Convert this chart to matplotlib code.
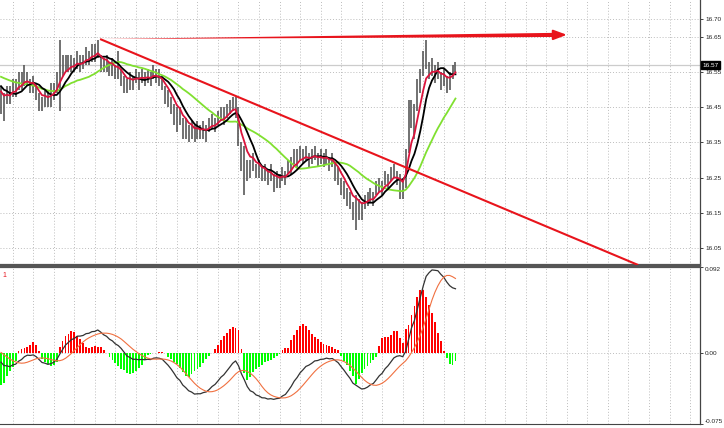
import numpy as np
import pandas as pd
import matplotlib
matplotlib.use("Agg")
import matplotlib.pyplot as plt
import matplotlib.transforms as mtransforms

# bars before the visible window (only used to warm up the averages)
history = [16.50, 16.51, 16.50, 16.52, 16.51, 16.53, 16.52, 16.54, 16.53, 16.55,
           16.54, 16.56, 16.55, 16.57, 16.56, 16.55, 16.57, 16.56, 16.55, 16.56,
           16.54, 16.55, 16.53, 16.54, 16.52, 16.53, 16.51, 16.52, 16.50, 16.49]

closes = [16.47, 16.46, 16.49, 16.48, 16.51, 16.50, 16.53, 16.52, 16.54, 16.53,
          16.51, 16.52, 16.49, 16.47, 16.46, 16.48, 16.47, 16.49, 16.50, 16.52,
          16.56, 16.57, 16.58, 16.57, 16.58, 16.57, 16.59, 16.57, 16.58, 16.60,
          16.59, 16.61, 16.60, 16.62, 16.58, 16.57, 16.58, 16.56, 16.57, 16.55,
          16.56, 16.54, 16.52, 16.51, 16.53, 16.52, 16.54, 16.53, 16.54, 16.53,
          16.54, 16.53, 16.55, 16.54, 16.53, 16.52, 16.49, 16.48, 16.46, 16.44,
          16.42, 16.43, 16.39, 16.40, 16.38, 16.39, 16.37, 16.39, 16.38, 16.39,
          16.38, 16.40, 16.41, 16.40, 16.42, 16.43, 16.42, 16.44, 16.45, 16.46,
          16.45, 16.36, 16.30, 16.30, 16.27, 16.28, 16.30, 16.27, 16.28, 16.26,
          16.27, 16.25, 16.26, 16.24, 16.25, 16.24, 16.26, 16.25, 16.28, 16.29,
          16.31, 16.30, 16.32, 16.31, 16.32, 16.30, 16.31, 16.32, 16.30, 16.31,
          16.30, 16.31, 16.29, 16.30, 16.27, 16.26, 16.23, 16.22, 16.20, 16.19,
          16.16, 16.18, 16.17, 16.16, 16.18, 16.19, 16.20, 16.19, 16.22, 16.23,
          16.22, 16.25, 16.24, 16.26, 16.27, 16.25, 16.24, 16.22, 16.30, 16.40,
          16.44, 16.42, 16.50, 16.54, 16.58, 16.60, 16.56, 16.57, 16.55, 16.56,
          16.53, 16.54, 16.52, 16.53, 16.55, 16.57]

# wick above / below the close, in cents
up = [4, 3, 2, 3, 2, 3, 2, 3, 3, 2,
      2, 2, 3, 2, 2, 2, 3, 3, 2, 3,
      8, 3, 2, 3, 2, 2, 2, 3, 2, 2,
      2, 2, 3, 2, 2, 2, 2, 2, 2, 2,
      5, 2, 2, 2, 2, 2, 2, 2, 2, 2,
      2, 2, 2, 2, 3, 2, 2, 2, 2, 2,
      3, 2, 3, 2, 2, 2, 3, 2, 2, 2,
      2, 2, 2, 2, 2, 2, 3, 2, 2, 2,
      3, 9, 5, 4, 3, 2, 2, 2, 2, 2,
      2, 2, 3, 2, 2, 2, 2, 2, 2, 2,
      2, 3, 2, 2, 2, 2, 2, 2, 2, 2,
      2, 2, 2, 2, 2, 2, 2, 2, 2, 2,
      2, 2, 2, 2, 2, 2, 2, 2, 2, 2,
      2, 2, 2, 2, 2, 2, 2, 3, 3, 7,
      3, 4, 3, 2, 3, 4, 2, 2, 2, 2,
      2, 2, 2, 2, 2, 1]
dn = [4, 5, 3, 2, 3, 2, 3, 2, 3, 2,
      2, 3, 2, 3, 2, 3, 2, 4, 3, 3,
      12, 3, 3, 2, 3, 2, 3, 2, 2, 3,
      2, 3, 2, 3, 3, 2, 3, 2, 3, 2,
      3, 3, 3, 2, 3, 2, 2, 3, 2, 2,
      2, 2, 2, 2, 2, 2, 3, 3, 3, 4,
      4, 3, 3, 4, 3, 3, 2, 3, 2, 3,
      3, 2, 2, 2, 2, 2, 2, 2, 2, 2,
      3, 2, 3, 10, 3, 3, 3, 2, 3, 2,
      3, 2, 2, 3, 3, 2, 2, 2, 2, 3,
      2, 2, 2, 2, 2, 2, 2, 2, 2, 2,
      2, 2, 2, 2, 3, 3, 3, 3, 3, 3,
      3, 8, 4, 3, 2, 2, 2, 2, 2, 2,
      2, 2, 2, 2, 2, 2, 5, 3, 8, 8,
      5, 6, 6, 5, 4, 4, 3, 3, 3, 3,
      3, 3, 3, 3, 2, 2]

osma = [-0.033, -0.031, -0.024, -0.019, -0.014, -0.008, 0.003, 0.005, 0.006, 0.007,
        0.009, 0.012, 0.009, 0.003, -0.006, -0.009, -0.011, -0.013, -0.012, -0.009,
        0.007, 0.013, 0.019, 0.021, 0.024, 0.023, 0.019, 0.015, 0.011, 0.007,
        0.006, 0.007, 0.008, 0.007, 0.007, 0.004, 0.000, -0.004, -0.007, -0.010,
        -0.013, -0.016, -0.018, -0.021, -0.022, -0.021, -0.019, -0.015, -0.012, -0.007,
        -0.002, -0.001, 0.000, 0.001, 0.002, 0.002, 0.000, -0.004, -0.006, -0.009,
        -0.011, -0.015, -0.020, -0.024, -0.025, -0.022, -0.019, -0.017, -0.014, -0.010,
        -0.006, -0.003, 0.001, 0.005, 0.009, 0.014, 0.019, 0.022, 0.026, 0.028,
        0.027, 0.025, 0.005, -0.021, -0.028, -0.025, -0.020, -0.017, -0.0145, -0.012,
        -0.0095, -0.008, -0.0068, -0.005, -0.003, -0.001, 0.004, 0.006, 0.006, 0.0145,
        0.020, 0.0255, 0.029, 0.031, 0.029, 0.025, 0.021, 0.018, 0.015, 0.012,
        0.010, 0.009, 0.008, 0.007, 0.005, 0.004, -0.003, -0.008, -0.012, -0.019,
        -0.024, -0.032, -0.027, -0.021, -0.017, -0.013, -0.010, -0.007, -0.004, 0.008,
        0.016, 0.018, 0.018, 0.020, 0.024, 0.024, 0.016, 0.011, 0.026, 0.030,
        0.041, 0.050, 0.060, 0.068, 0.068, 0.060, 0.052, 0.043, 0.033, 0.022,
        0.013, 0.003, -0.005, -0.011, -0.012, -0.008]

price_ticks = [16.05, 16.15, 16.25, 16.35, 16.45, 16.55, 16.65, 16.70]
macd_ticks = [0.092, 0.0, -0.075]

# drawn objects on the chart (bar index, price)
trend_x = [33.8, 217.3]
trend_y = [16.644, 16.0015]
arrow_x = [33.8, 193.0]
arrow_y = [16.644, 16.656]

n_hist = len(history)
allc = pd.Series(history + closes)
x = np.arange(len(closes))
c = np.array(closes)
hi = c + np.array(up) / 100
lo = c - np.array(dn) / 100

ma_fast = allc.ewm(span=5, adjust=False).mean().values[n_hist:]
ma_mid = allc.rolling(8).mean().values[n_hist:]
ma_slow = allc.rolling(21, min_periods=1).mean().values[n_hist:]

macd_all = allc.ewm(span=12, adjust=False).mean() - allc.ewm(span=26, adjust=False).mean()
signal_all = macd_all.rolling(9, min_periods=1).mean()
macd = macd_all.values[n_hist:]
signal = signal_all.values[n_hist:]

plt.rcParams['font.family'] = ['Liberation Sans', 'DejaVu Sans']

W, H = 724, 428
fig = plt.figure(figsize=(W / 100, H / 100), dpi=100)
ax = fig.add_axes([0, 163 / H, 700 / W, 265 / H])
ax2 = fig.add_axes([0, 4 / H, 700 / W, 157 / H])

xmin, xmax = -0.34, 238.4
grid_kw = dict(color='#bdbdbd', linestyle=(0, (1, 2)), linewidth=0.7)

for a in (ax, ax2):
    a.set_xlim(xmin, xmax)
    a.set_xticks(np.arange(4, 240, 7))
    a.grid(axis='x', **grid_kw)
    a.set_axisbelow(True)
    a.tick_params(axis='x', length=0, labelbottom=False)
    a.yaxis.tick_right()
    a.tick_params(axis='y', length=2.5, width=0.6, pad=1.2, labelsize=4.6, colors='#222222')
    for s in ('left', 'top'):
        a.spines[s].set_visible(False)
    a.spines['right'].set_color('#444444')
    a.spines['right'].set_linewidth(0.9)

# ---- price panel
ax.set_ylim(16.0015, 16.755)
ax.set_yticks(price_ticks)
ax.set_yticklabels([f"{v:.2f}" for v in price_ticks])
ax.grid(axis='y', **grid_kw)
ax.spines['bottom'].set_color('#555555')
ax.spines['bottom'].set_linewidth(1.6)

ax.axhline(closes[-1], color='#cccccc', lw=0.9, zorder=1)
ax.vlines(x, lo, hi, color='#4a4a4a', lw=1.1, zorder=2)
ax.plot(x, ma_slow, color='#80e030', lw=1.3, zorder=3)
ax.plot(x, ma_mid, color='black', lw=1.3, zorder=4)
ax.plot(x, ma_fast, color='#dc143c', lw=1.3, zorder=5)

ax.plot(trend_x, trend_y, color='#e8141c', lw=1.5, zorder=6, solid_capstyle='butt')
# tapered shaft (thin on the left) plus a head on the right
ax.annotate('', xy=(arrow_x[0], arrow_y[0]), xytext=(arrow_x[1] - 3, 16.6558),
            arrowprops=dict(arrowstyle='wedge,tail_width=0.3,shrink_factor=0.5',
                            fc='#e8141c', ec='none', mutation_scale=10,
                            shrinkA=0, shrinkB=0),
            zorder=6)
ax.annotate('', xy=(arrow_x[1], arrow_y[1]), xytext=(arrow_x[1] - 5, 16.6558),
            arrowprops=dict(arrowstyle='-|>,head_length=0.8,head_width=0.3',
                            color='#e8141c', lw=1.5, shrinkA=0, shrinkB=0),
            zorder=6)

tr = mtransforms.blended_transform_factory(ax.transAxes, ax.transData)
ax.text(1.003, closes[-1], f"{closes[-1]:.2f}", transform=tr, fontsize=4.6,
        color='white', va='center', ha='left',
        bbox=dict(boxstyle='square,pad=0.2', fc='black', ec='black'))

# ---- MACD panel
ax2.set_ylim(-0.0745, 0.092)
ax2.set_yticks(macd_ticks)
ax2.set_yticklabels(['0.092', '0.00', '-0.075'])
ax2.get_yticklabels()[0].set_va('top')
ax2.get_yticklabels()[2].set_va('bottom')
ax2.axhline(0, **grid_kw)
ax2.spines['top'].set_color('#555555')
ax2.spines['top'].set_visible(True)
ax2.spines['top'].set_linewidth(1.6)
ax2.spines['bottom'].set_color('#444444')
ax2.set_xticks(np.arange(11, 240, 14), minor=True)
ax2.tick_params(axis='x', which='minor', length=2, width=0.6, color='#444444')

bar_cols = ['#ff0000' if v > 0 else '#00ff00' for v in osma]
ax2.bar(x, osma, width=0.62, color=bar_cols, zorder=2)
ax2.plot(x, macd, color='#333333', lw=0.9, zorder=3)
ax2.plot(x, signal, color='#f07040', lw=0.8, zorder=3)
ax2.text(0.004, 0.97, '1', transform=ax2.transAxes, color='#e8141c',
         fontsize=5, va='top', ha='left')

fig.savefig('out.png', dpi=100)
